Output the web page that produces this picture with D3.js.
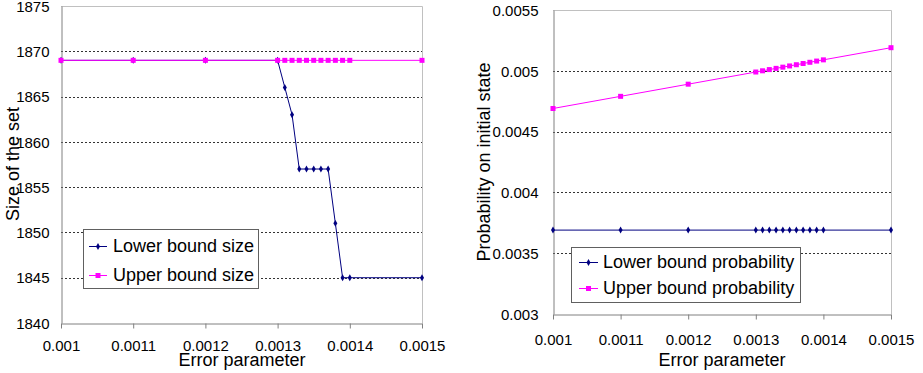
<!DOCTYPE html>
<html><head><meta charset="utf-8">
<script src="https://cdn.jsdelivr.net/npm/d3@7"></script>
<style>
body{margin:0;background:#fff;}
svg text{font-family:"Liberation Sans",Arial,sans-serif;fill:#000;}
</style></head>
<body><svg id="c" width="923" height="373"></svg>
<script>
const errorParam = [0.001,0.0011,0.0012,0.0013,0.00131,0.00132,0.00133,0.00134,0.00135,0.00136,0.00137,0.00138,0.00139,0.0014,0.0015];
const lowerSize = [1869,1869,1869,1869,1866,1863,1857,1857,1857,1857,1857,1851,1845,1845,1845];
const upperSize = [1869,1869,1869,1869,1869,1869,1869,1869,1869,1869,1869,1869,1869,1869,1869];
const lowerProb = [0.00369,0.00369,0.00369,0.00369,0.00369,0.00369,0.00369,0.00369,0.00369,0.00369,0.00369,0.00369,0.00369,0.00369,0.00369];
const upperProb = [0.00469,0.00479,0.00489,0.00499,0.0050,0.00501,0.00502,0.00503,0.00504,0.00505,0.00506,0.00507,0.00508,0.00509,0.00519];
const xTicks = [0.001,0.0011,0.0012,0.0013,0.0014,0.0015];
const sizeTicks = [1840,1845,1850,1855,1860,1865,1870,1875];
const probTicks = [0.003,0.0035,0.004,0.0045,0.005,0.0055];

const svg = d3.select("#c");
const BLUE = "#000080", PINK = "#ff00ff";

function panel(cfg){
  const g = svg.append("g");
  const x = d3.scaleLinear().domain([0.001,0.0015]).range([cfg.x0,cfg.x1]);
  const y = d3.scaleLinear().domain(cfg.yDomain).range([cfg.y1,cfg.y0]);
  // gridlines
  g.selectAll(".grid").data(cfg.yTicks.slice(1,-1)).enter().append("line")
    .attr("x1",cfg.x0).attr("x2",cfg.x1).attr("y1",d=>Math.round(y(d))+0.5).attr("y2",d=>Math.round(y(d))+0.5)
    .attr("stroke","#333").attr("stroke-dasharray","2,2").attr("stroke-width",1);
  // frame top/right
  g.append("path").attr("d",`M${cfg.x0},${cfg.y0+0.5}H${cfg.x1+0.5}V${cfg.y1}`).attr("fill","none").attr("stroke","#c0c0c0");
  // x axis
  const xa = g.append("g").attr("transform",`translate(0,${cfg.y1+0.5})`)
    .call(d3.axisBottom(x).tickValues(xTicks).tickSize(5).tickSizeOuter(0).tickFormat(d=>String(+d.toPrecision(2))));
  xa.select(".domain").attr("stroke","#808080");
  xa.selectAll(".tick line").attr("stroke","#808080");
  xa.selectAll("text").attr("font-size",15).attr("y",cfg.xLabelDy).attr("font-family",null);
  // y axis
  const ya = g.append("g").attr("transform",`translate(${cfg.x0+0.5},0)`)
    .call(d3.axisLeft(y).tickValues(cfg.yTicks).tickSize(0).tickSizeOuter(0).tickFormat(cfg.yFmt));
  ya.select(".domain").attr("stroke","#808080");
  ya.selectAll("text").attr("font-size",15).attr("x",-cfg.yLabelGap).attr("dy","0.35em").attr("font-family",null);
  // titles
  g.append("text").attr("x",cfg.xTitleX).attr("y",cfg.xTitleY).attr("text-anchor","middle").attr("font-size",18).text("Error parameter");
  g.append("text").attr("transform",`translate(${cfg.yTitleX},${cfg.yTitleY}) rotate(-90)`).attr("text-anchor","middle").attr("font-size",18).text(cfg.yTitle);
  // lines
  const line = d3.line().x(d=>x(d[0])).y(d=>y(d[1]));
  const lo = errorParam.map((e,i)=>[e,cfg.lower[i]]);
  const up = errorParam.map((e,i)=>[e,cfg.upper[i]]);
  g.append("path").datum(lo).attr("d",line).attr("fill","none").attr("stroke",BLUE).attr("stroke-width",1);
  g.selectAll(".lm").data(lo).enter().append("path")
    .attr("transform",d=>`translate(${x(d[0])},${y(d[1])})`)
    .attr("d",d3.symbol(d3.symbolDiamond,14)).attr("fill",BLUE);
  g.append("path").datum(up).attr("d",line).attr("fill","none").attr("stroke",PINK).attr("stroke-width",1);
  g.selectAll(".um").data(up).enter().append("rect")
    .attr("x",d=>x(d[0])-2.5).attr("y",d=>y(d[1])-2.5).attr("width",5).attr("height",5).attr("fill",PINK);
  // legend
  const L = cfg.legend;
  const lg = g.append("g");
  lg.append("rect").attr("x",L.x+0.5).attr("y",L.y+0.5).attr("width",L.w).attr("height",L.h).attr("fill","#fff").attr("stroke","#606060");
  const items = [{name:cfg.names[0],c:BLUE,m:"d"},{name:cfg.names[1],c:PINK,m:"s"}];
  items.forEach((it,i)=>{
    const yy = L.rowY[i];
    lg.append("line").attr("x1",L.lx0).attr("x2",L.lx1).attr("y1",yy+0.5).attr("y2",yy+0.5).attr("stroke",it.c);
    const cx=(L.lx0+L.lx1)/2;
    if(it.m==="d") lg.append("path").attr("transform",`translate(${cx},${yy+0.5})`).attr("d",d3.symbol(d3.symbolDiamond,14)).attr("fill",it.c);
    else lg.append("rect").attr("x",cx-2.5).attr("y",yy-2).attr("width",5).attr("height",5).attr("fill",it.c);
    lg.append("text").attr("x",L.tx).attr("y",yy).attr("dy","0.35em").attr("font-size",18).text(it.name);
  });
}

panel({x0:61,x1:422,y0:6,y1:323,yDomain:[1840,1875],yTicks:sizeTicks,yFmt:d=>String(d),
  xLabelDy:17,yLabelGap:12,xTitleX:242,xTitleY:366,yTitleX:19,yTitleY:164,yTitle:"Size of the set",
  lower:lowerSize,upper:upperSize,names:["Lower bound size","Upper bound size"],
  legend:{x:83,y:229,w:175,h:59,lx0:89,lx1:107,tx:113,rowY:[246,275]}});

panel({x0:553,x1:891,y0:10,y1:314,yDomain:[0.003,0.0055],yTicks:probTicks,yFmt:d=>String(+d.toPrecision(2)),
  xLabelDy:20,yLabelGap:15,xTitleX:722,xTitleY:366,yTitleX:490,yTitleY:162,yTitle:"Probability on initial state",
  lower:lowerProb,upper:upperProb,names:["Lower bound probability","Upper bound probability"],
  legend:{x:571,y:247,w:229,h:55,lx0:579,lx1:598,tx:603,rowY:[262,288]}});
</script></body></html>
